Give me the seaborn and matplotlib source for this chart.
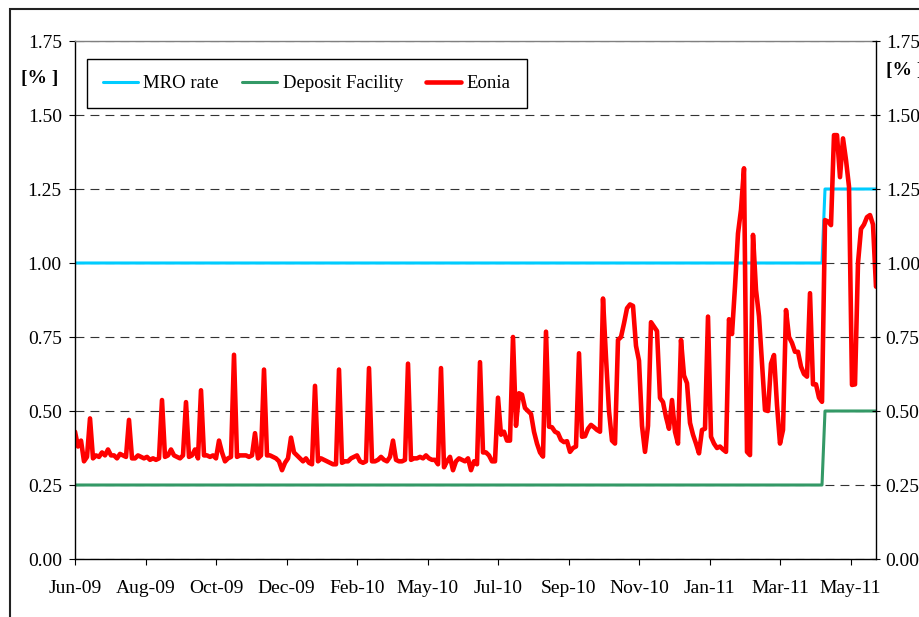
import numpy as np
import pandas as pd
import seaborn as sns
import matplotlib.pyplot as plt
from matplotlib.patches import Rectangle

# Eonia overnight rate in %, one reading every second TARGET business day, Jun-09 .. May-11
eonia = [
    0.43, 0.38, 0.40, 0.33, 0.345, 0.475, 0.34, 0.35, 0.345, 0.36,
    0.35, 0.37, 0.35, 0.35, 0.34, 0.355, 0.35, 0.345, 0.47, 0.34,
    0.34, 0.35, 0.345, 0.34, 0.345, 0.335, 0.34, 0.335, 0.34, 0.537,
    0.345, 0.35, 0.37, 0.35, 0.345, 0.34, 0.35, 0.53, 0.345, 0.35,
    0.37, 0.34, 0.57, 0.35, 0.35, 0.345, 0.35, 0.34, 0.40, 0.36,
    0.33, 0.34, 0.345, 0.69, 0.345, 0.35, 0.35, 0.35, 0.345, 0.35,
    0.425, 0.34, 0.35, 0.64, 0.35, 0.35, 0.345, 0.34, 0.33, 0.30,
    0.325, 0.34, 0.41, 0.36, 0.35, 0.34, 0.33, 0.34, 0.325, 0.32,
    0.585, 0.33, 0.34, 0.335, 0.33, 0.325, 0.32, 0.32, 0.64, 0.325,
    0.33, 0.33, 0.34, 0.345, 0.35, 0.33, 0.325, 0.33, 0.645, 0.33,
    0.33, 0.335, 0.345, 0.335, 0.33, 0.345, 0.40, 0.335, 0.33, 0.33,
    0.335, 0.66, 0.335, 0.34, 0.34, 0.345, 0.34, 0.35, 0.34, 0.335,
    0.335, 0.32, 0.645, 0.31, 0.33, 0.345, 0.30, 0.33, 0.34, 0.335,
    0.33, 0.34, 0.30, 0.33, 0.32, 0.665, 0.36, 0.36, 0.35, 0.33,
    0.33, 0.545, 0.42, 0.43, 0.40, 0.40, 0.75, 0.45, 0.56, 0.555,
    0.51, 0.50, 0.49, 0.43, 0.39, 0.36, 0.346, 0.768, 0.447, 0.445,
    0.43, 0.425, 0.402, 0.395, 0.398, 0.362, 0.375, 0.38, 0.695, 0.413,
    0.415, 0.44, 0.453, 0.445, 0.436, 0.43, 0.88, 0.68, 0.50, 0.40,
    0.39, 0.74, 0.75, 0.796, 0.847, 0.86, 0.855, 0.72, 0.67, 0.45,
    0.362, 0.45, 0.80, 0.785, 0.77, 0.544, 0.53, 0.48, 0.44, 0.537,
    0.43, 0.39, 0.74, 0.62, 0.594, 0.46, 0.42, 0.39, 0.357, 0.436,
    0.44, 0.819, 0.413, 0.39, 0.375, 0.38, 0.37, 0.362, 0.81, 0.76,
    0.92, 1.10, 1.18, 1.32, 0.362, 0.351, 1.095, 0.909, 0.82, 0.66,
    0.503, 0.50, 0.66, 0.689, 0.52, 0.39, 0.436, 0.841, 0.75, 0.73,
    0.70, 0.70, 0.65, 0.625, 0.616, 0.898, 0.59, 0.59, 0.545, 0.531,
    1.145, 1.14, 1.128, 1.432, 1.432, 1.29, 1.421, 1.348, 1.258, 0.588,
    0.59, 1.0, 1.115, 1.13, 1.155, 1.162, 1.13, 0.92,
]

# ECB policy rates before / after the April 2011 hike
mro_levels = [1.00, 1.25]
deposit_levels = [0.25, 0.50]
hike_sample = 250  # first sample at the new rates

tick_labels = ['Jun-09', 'Aug-09', 'Oct-09', 'Dec-09', 'Feb-10', 'May-10',
               'Jul-10', 'Sep-10', 'Nov-10', 'Jan-11', 'Mar-11', 'May-11']
tick_every = 47  # business days between labelled ticks

n = len(eonia)
idx = np.arange(n)
df = pd.DataFrame({
    'day': idx * 2,
    'MRO rate': np.where(idx < hike_sample, mro_levels[0], mro_levels[1]),
    'Deposit Facility': np.where(idx < hike_sample, deposit_levels[0], deposit_levels[1]),
    'Eonia': eonia,
})

sns.set_theme(style='ticks')
plt.rcParams['font.family'] = ['Liberation Serif', 'DejaVu Serif']

W, H = 919, 617
FS = 14
fig = plt.figure(figsize=(W / 100, H / 100), dpi=100)
ax = fig.add_axes([75 / W, 1 - 559 / H, 801 / W, 518 / H])

sns.lineplot(data=df, x='day', y='MRO rate', ax=ax, color='#00CCFF', lw=2.2, label='MRO rate')
sns.lineplot(data=df, x='day', y='Deposit Facility', ax=ax, color='#339966', lw=2.2,
             label='Deposit Facility')
sns.lineplot(data=df, x='day', y='Eonia', ax=ax, color='#FF0000', lw=3.3, label='Eonia')

yticks = np.arange(0, 1.76, 0.25)
ax.set_xlim(0, df['day'].iloc[-1])
ax.set_ylim(0, 1.75)
ax.set_yticks(yticks)
ax.set_yticklabels([f'{v:.2f}' for v in yticks])
ax.set_xticks(np.arange(len(tick_labels)) * tick_every)
ax.set_xticklabels(tick_labels)
ax.set_xlabel('')
ax.set_ylabel('')

ax.yaxis.grid(True, color='#333333', lw=0.8, linestyle=(0, (8, 5.5)))
ax.set_axisbelow(True)

ax.tick_params(axis='y', direction='out', length=4.5, width=0.8, pad=5,
               labelsize=FS, labelcolor='black', color='black', left=True)
ax.tick_params(axis='x', direction='out', length=4, width=0.8, pad=11,
               labelsize=FS, labelcolor='black', color='black', bottom=True)
for side in ['left', 'bottom']:
    ax.spines[side].set_color('black')
    ax.spines[side].set_linewidth(1.0)
ax.spines['top'].set_color('#808080')
ax.spines['top'].set_linewidth(1.0)
ax.spines['right'].set_visible(False)

ax2 = ax.twinx()
ax2.set_ylim(0, 1.75)
ax2.set_yticks(yticks)
ax2.set_yticklabels([f'{v:.2f}' for v in yticks])
ax2.tick_params(axis='y', direction='inout', length=6, width=0.8, pad=4,
                labelsize=FS, labelcolor='black', color='black', right=True)
for side in ['left', 'top', 'bottom']:
    ax2.spines[side].set_visible(False)
ax2.spines['right'].set_color('black')
ax2.spines['right'].set_linewidth(1.0)

handles, labels = ax.get_legend_handles_labels()
leg = ax.legend(handles, labels, ncol=3, loc='upper left', bbox_to_anchor=(0.015, 0.965),
                borderaxespad=0, frameon=True, fancybox=False, edgecolor='black',
                framealpha=1, fontsize=13.5, handlelength=1.85, handletextpad=0.3,
                columnspacing=1.25, borderpad=0.85)
leg.get_frame().set_linewidth(1.0)
for t in leg.get_texts():
    t.set_color('black')

fig.text(40 / W, 1 - 78 / H, '[% ]', ha='center', va='center', fontsize=FS,
         fontweight='bold', color='black')
# the reference also crops this right-hand unit label at the figure edge
fig.text(886 / W, 1 - 70 / H, '[% ]', ha='left', va='center', fontsize=FS,
         fontweight='bold', color='black')

fig.patches.append(Rectangle((10 / W, -0.1), 1.2, 1.1 - 9 / H, transform=fig.transFigure,
                             fill=False, edgecolor='#222222', lw=1.5))

fig.savefig('out.png', dpi=100)
